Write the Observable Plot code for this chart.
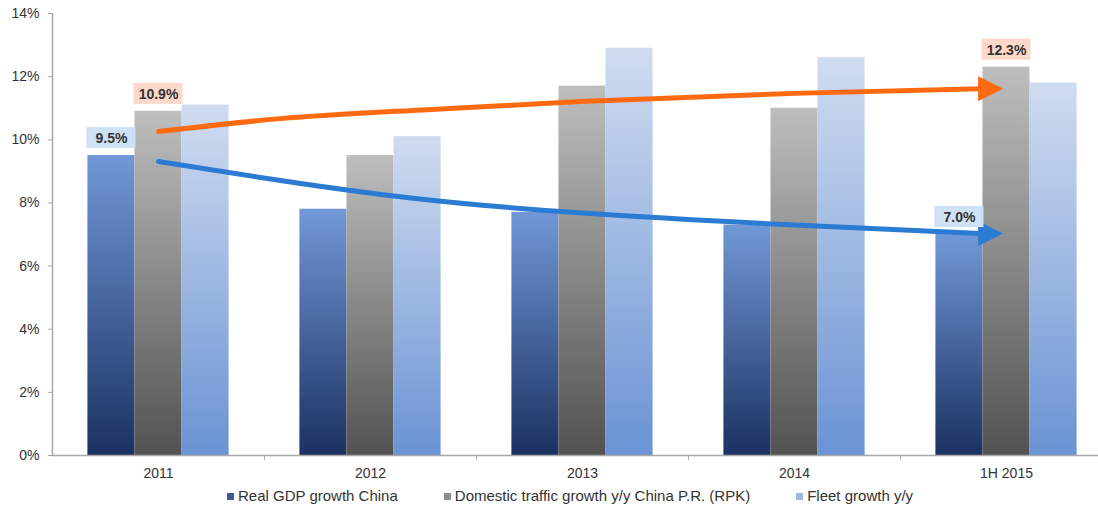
<!DOCTYPE html>
<html>
<head>
<meta charset="utf-8">
<script src="https://cdn.jsdelivr.net/npm/d3@7"></script>
<script src="https://cdn.jsdelivr.net/npm/@observablehq/plot@0.6"></script>
<style>
  html, body { margin: 0; padding: 0; background: #fff; overflow: hidden; }
  #chart { width: 1112px; }
  #chart svg { display: block; max-width: none !important; }
  .legend { display: flex; align-items: center; margin: 2px 0 0 227px; font: 15px "Liberation Sans", Arial, sans-serif; color: #333; line-height: 18px; white-space: nowrap; }
  .legend .item { display: flex; align-items: center; margin-right: 46px; }
  .legend .sw { width: 7px; height: 7px; margin-right: 4px; }
</style>
</head>
<body>
<div id="chart"></div>
<script>
// Categories and series (percent growth)
const years = ["2011", "2012", "2013", "2014", "1H 2015"];
const gdpGrowth = [9.5, 7.8, 7.7, 7.3, 7.0];
const rpkGrowth = [10.9, 9.5, 11.7, 11.0, 12.3];
const fleetGrowth = [11.1, 10.1, 12.9, 12.6, 11.8];
const yTicks = [0, 2, 4, 6, 8, 10, 12, 14];

// Hand-drawn trend arrows: [category position, percent]
const gdpTrend = [[0, 9.31], [0.575, 8.71], [1.2, 8.15], [2.0, 7.68], [3.0, 7.3], [3.877, 7.03]];
const rpkTrend = [[0, 10.26], [0.575, 10.67], [1.2, 10.93], [2.085, 11.24], [3.0, 11.47], [3.877, 11.62]];
const arrowTipAt = 3.925;

const series = [
  {key: "gdp", name: "Real GDP growth China", values: gdpGrowth, grad: "gGdp", swatch: "#3d5a96"},
  {key: "rpk", name: "Domestic traffic growth y/y China P.R. (RPK)", values: rpkGrowth, grad: "gRpk", swatch: "#8e8e8e"},
  {key: "fleet", name: "Fleet growth y/y", values: fleetGrowth, grad: "gFleet", swatch: "#9fb7e1"}
];

const barWidth = 0.222; // share of a category slot per bar
const bars = series.flatMap((s, k) => s.values.map((v, i) => ({
  series: s.key, grad: s.grad, i, value: v,
  x1: i + (k - 1) * barWidth - barWidth / 2,
  x2: i + (k - 1) * barWidth + barWidth / 2
})));

// Value call-outs: first and last GDP and RPK bars
const callouts = [
  {k: 0, i: 0, box: "#cfe1f4"},
  {k: 0, i: 4, box: "#cfe1f4"},
  {k: 1, i: 0, box: "#fcd8ca"},
  {k: 1, i: 4, box: "#fcd8ca"}
].map(c => {
  const b = bars.find(d => d.series === series[c.k].key && d.i === c.i);
  return {...b, box: c.box, label: b.value.toFixed(1) + "%"};
});

const rightTriangle = {
  draw(ctx, size) {
    const r = Math.sqrt(size / Math.PI);
    ctx.moveTo(r, 0);
    ctx.lineTo(-r, -r);
    ctx.lineTo(-r, r);
    ctx.closePath();
  }
};

const axisGray = "#a9a9a9";

const chart = Plot.plot({
  width: 1112,
  height: 485,
  marginLeft: 52,
  marginRight: 0,
  marginTop: 13,
  marginBottom: 30,
  style: {fontFamily: "'Liberation Sans', Arial, sans-serif", fontSize: "14px", color: "#333", background: "#fff", maxWidth: "none"},
  x: {type: "linear", domain: [-0.5, 4.5], axis: null},
  y: {domain: [0, 14], axis: null},
  marks: [
    Plot.rect(bars, {x1: "x1", x2: "x2", y1: 0, y2: "value", fill: d => `url(#${d.grad})`}),
    Plot.ruleY([0], {stroke: axisGray, strokeWidth: 1.5}),
    Plot.ruleX([-0.5], {y1: 0, y2: 14, stroke: axisGray, strokeWidth: 1.5}),
    Plot.axisY({ticks: yTicks, tickFormat: d => d + "%", tickSize: 4, tickPadding: 9, stroke: axisGray, fontSize: 14}),
    Plot.axisX({ticks: [0.5, 1.5, 2.5, 3.5], tickFormat: () => "", tickSize: 5, stroke: axisGray}),
    Plot.axisX({ticks: [0, 1, 2, 3, 4], tickFormat: i => years[i], tickSize: 0, tickPadding: 13, fontSize: 14}),
    Plot.line(rpkTrend, {x: "0", y: "1", curve: "natural", stroke: "#ff6a10", strokeWidth: 5}),
    Plot.line(gdpTrend, {x: "0", y: "1", curve: "natural", stroke: "#2b7bd3", strokeWidth: 5}),
    Plot.dot([rpkTrend[rpkTrend.length - 1]], {x: () => arrowTipAt, y: "1", r: 12.5, symbol: rightTriangle, fill: "#ff6a10", stroke: "none"}),
    Plot.dot([gdpTrend[gdpTrend.length - 1]], {x: () => arrowTipAt, y: "1", r: 12.5, symbol: rightTriangle, fill: "#2b7bd3", stroke: "none"}),
    Plot.rect(callouts, {x1: "x1", x2: "x2", y1: "value", y2: "value", insetTop: -28, insetBottom: 7, insetLeft: -1, insetRight: -1, fill: "box"}),
    Plot.text(callouts, {x: d => (d.x1 + d.x2) / 2, y: "value", dy: -17, text: "label", fontWeight: "bold", fontSize: 14, fill: "#333"})
  ]
});

// Vertical gradients for the three bar series
const defs = d3.select(chart).insert("defs", ":first-child");
const gradStops = {
  gGdp: ["#7198d7", "#1b3161"],
  gRpk: ["#bebebe", "#525252"],
  gFleet: ["#d0dcf0", "#6a93d4"]
};
for (const [id, [top, bottom]] of Object.entries(gradStops)) {
  const g = defs.append("linearGradient").attr("id", id).attr("x1", 0).attr("y1", 0).attr("x2", 0).attr("y2", 1);
  g.append("stop").attr("offset", "0%").attr("stop-color", top);
  g.append("stop").attr("offset", "100%").attr("stop-color", bottom);
}

document.getElementById("chart").append(chart);

// Legend below the chart
const legend = d3.select("#chart").append("div").attr("class", "legend");
for (const s of series) {
  const item = legend.append("div").attr("class", "item");
  item.append("div").attr("class", "sw").style("background", s.swatch);
  item.append("span").text(s.name);
}
</script>
</body>
</html>
